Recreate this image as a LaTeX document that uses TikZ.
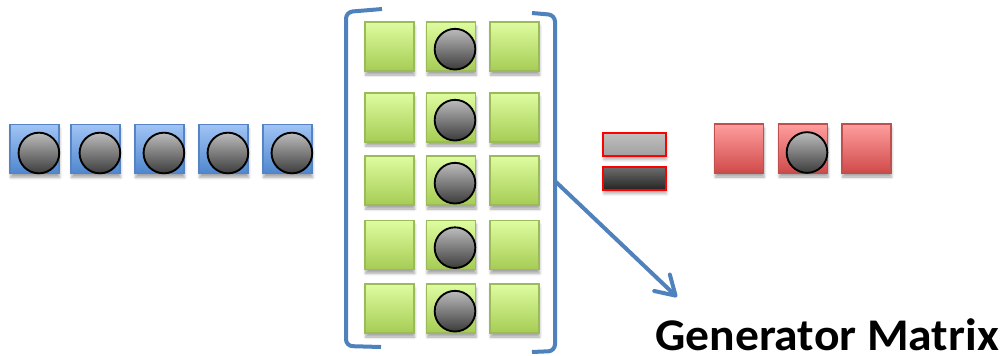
\documentclass[tikz,border=0pt]{standalone}
\usepackage{fontspec}
\setmainfont{Carlito}
\usetikzlibrary{arrows.meta,shadows.blur}
\definecolor{linkblue}{RGB}{79,129,189}
\definecolor{bluetop}{RGB}{160,196,245}
\definecolor{bluebot}{RGB}{80,134,206}
\definecolor{blueedge}{RGB}{86,131,196}
\definecolor{greentop}{RGB}{222,252,160}
\definecolor{greenbot}{RGB}{166,204,84}
\definecolor{greenedge}{RGB}{155,187,89}
\definecolor{redtop}{RGB}{255,158,158}
\definecolor{redbot}{RGB}{208,74,74}
\definecolor{rededge}{RGB}{192,80,77}
\definecolor{balltop}{RGB}{188,188,188}
\definecolor{ballbot}{RGB}{60,60,60}
\tikzset{
  x=0.75pt, y=-0.75pt,
  cell/.style={rectangle, inner sep=0pt, minimum size=36.75pt, line width=0.9pt,
    blur shadow={shadow xshift=0.5pt, shadow yshift=-3pt, shadow opacity=35, shadow blur steps=6}},
  bluecell/.style={cell, draw=blueedge, top color=bluetop, bottom color=bluebot},
  greencell/.style={cell, draw=greenedge, top color=greentop, bottom color=greenbot},
  redcell/.style={cell, draw=rededge, top color=redtop, bottom color=redbot},
  ball/.style={circle, inner sep=0pt, minimum size=30.5pt, line width=1.4pt, draw=black,
    top color=balltop, bottom color=ballbot},
  bar/.style={rectangle, inner sep=0pt, minimum width=47pt, minimum height=17pt,
    draw=red, line width=1.4pt,
    blur shadow={shadow xshift=0.5pt, shadow yshift=-3pt, shadow opacity=30, shadow blur steps=5}},
  bracket/.style={draw=linkblue, line width=3pt, rounded corners=5pt},
  title/.style={font=\bfseries\fontsize{34pt}{38pt}\selectfont, inner sep=0pt, anchor=base west}
}
\begin{document}
\begin{tikzpicture}
\useasboundingbox (0,0) rectangle (1002,355);

% input word: five blue cells, each holding a ball
\foreach \i/\xx in {1/34.5, 2/95.5, 3/159.5, 4/223.5, 5/287.5} {
  \node[bluecell] (in\i) at (\xx,149) {};
  \node[ball] (inb\i) at ([xshift=3.3pt,yshift=-3pt]in\i.center) {};
}

% generator matrix: 5 rows x 3 columns, balls in the middle column
\foreach \r/\yy in {1/46.5, 2/117.5, 3/180.5, 4/245, 5/308.5} {
  \foreach \c/\xx in {1/389.5, 2/451, 3/514.5} {
    \node[greencell] (g\r\c) at (\xx,\yy) {};
  }
  \node[ball] (gb\r) at ([xshift=3pt,yshift=-2pt]g\r2.center) {};
}

% matrix brackets
\path[bracket] (382,9) -- (346,12) -- (346,346) -- (381,347);
\path[bracket] (532,13) -- (555,15) -- (555,351) -- (532,352);

% equals sign
\node[bar, top color=balltop!95!white, bottom color=balltop!85!black] (eqtop) at (634.5,144.5) {};
\node[bar, top color=ballbot!75!white, bottom color=ballbot!60!black] (eqbot) at (634.5,178.5) {};

% output word: three red cells, the middle one holding a ball
\foreach \i/\xx in {1/739, 2/803, 3/866.5} {
  \node[redcell] (out\i) at (\xx,148.5) {};
}
\node[ball] (outb) at ([xshift=3pt,yshift=-3pt]out2.center) {};

% label and pointer
\node[title] (gm) at (655,350) {\scalebox{1.05}[1]{Generator Matrix}};
\coordinate (brk) at (556,182);
\coordinate (tip) at (677,297);
\draw[linkblue, line width=3pt, -{Straight Barb[length=14pt,width=17pt,round]}] (brk) -- (tip);
\end{tikzpicture}
\end{document}
